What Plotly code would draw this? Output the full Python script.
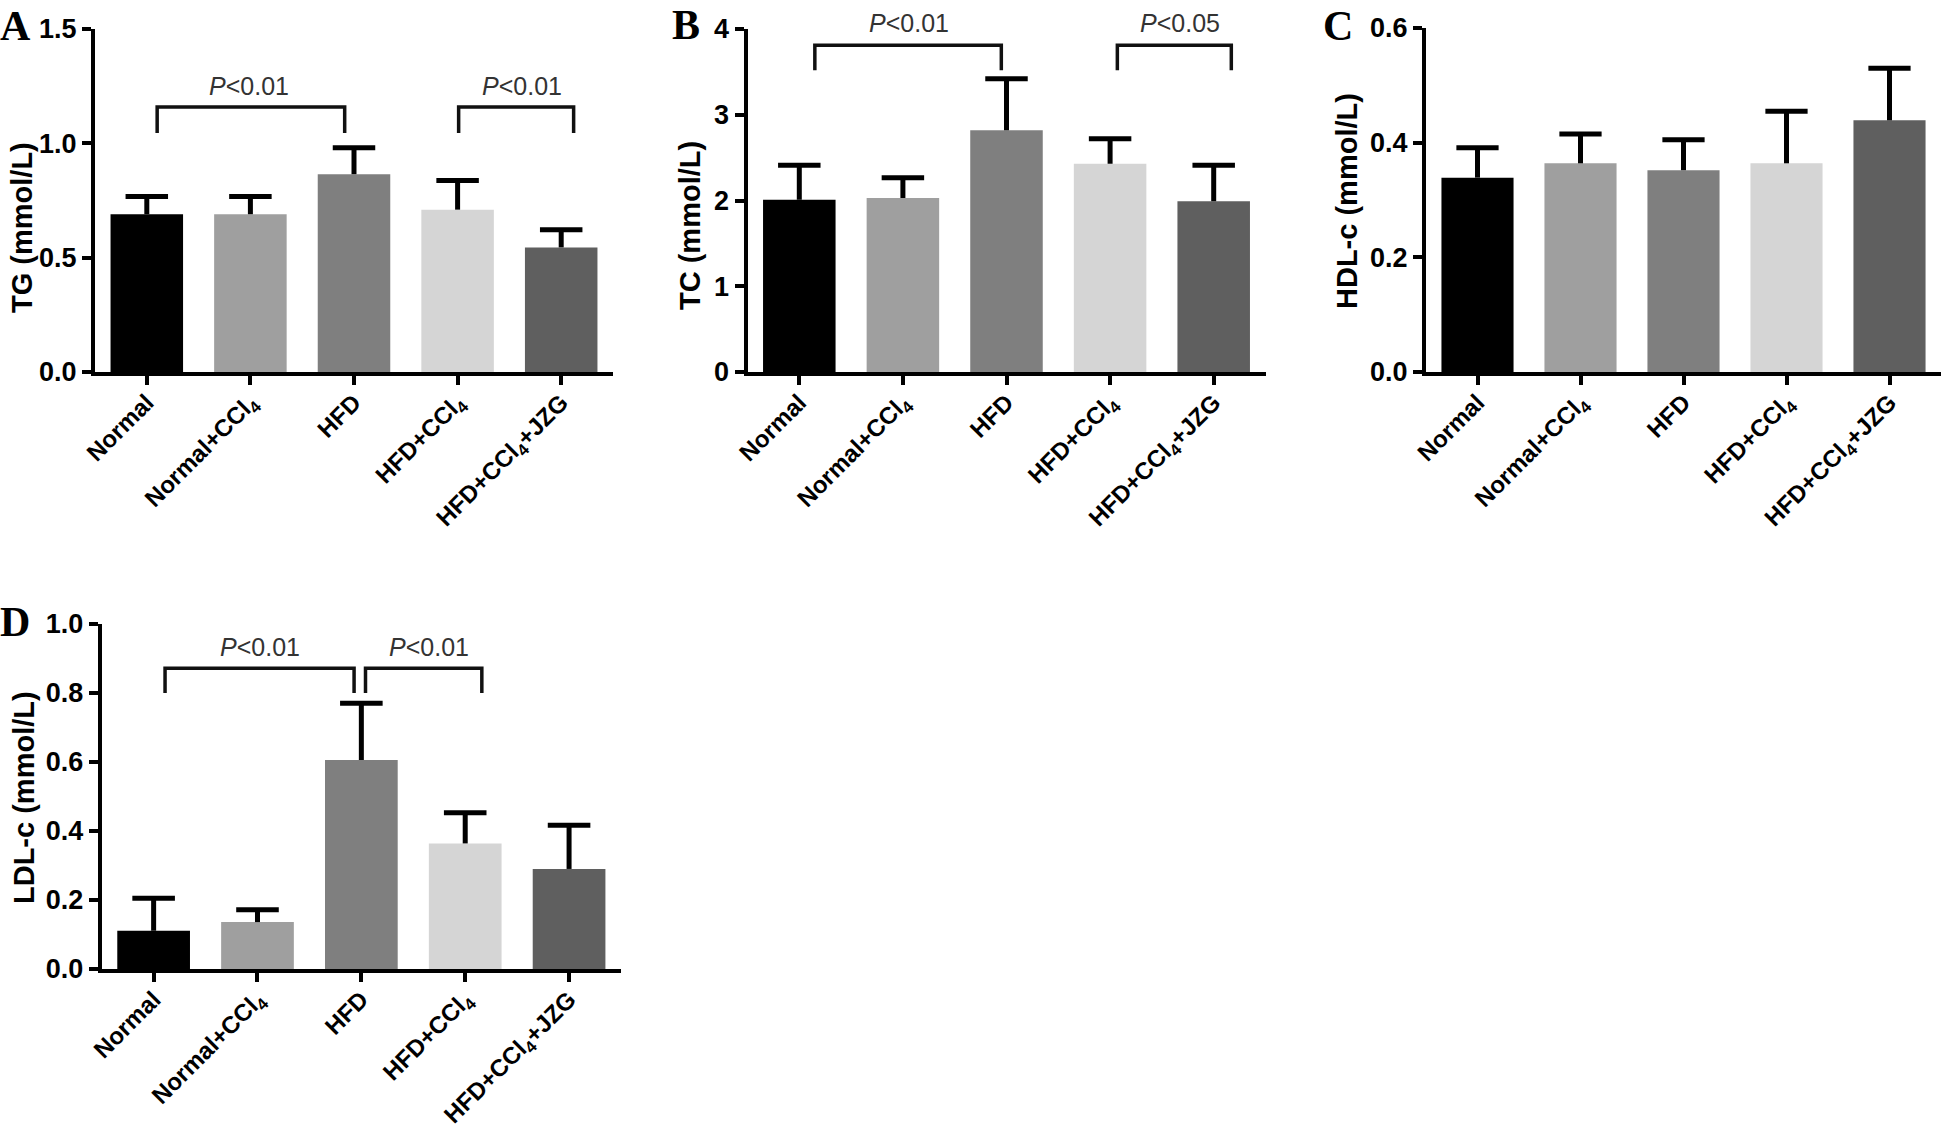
import plotly.graph_objects as go

# ---------------- data ----------------
groups = ["Normal", "Normal+CCl<sub>4</sub>", "HFD", "HFD+CCl<sub>4</sub>", "HFD+CCl<sub>4</sub>+JZG"]
bar_colors = ["#000000", "#9f9f9f", "#7f7f7f", "#d5d5d5", "#5f5f5f"]

tg_mean = [0.69, 0.69, 0.865, 0.71, 0.545]
tg_sd = [0.078, 0.078, 0.116, 0.128, 0.077]

tc_mean = [2.01, 2.03, 2.82, 2.43, 1.99]
tc_sd = [0.40, 0.235, 0.60, 0.29, 0.42]

hdl_mean = [0.339, 0.364, 0.352, 0.364, 0.439]
hdl_sd = [0.052, 0.051, 0.053, 0.091, 0.091]

ldl_mean = [0.111, 0.136, 0.606, 0.364, 0.290]
ldl_sd = [0.094, 0.036, 0.164, 0.089, 0.127]

tg_ticks = [0.0, 0.5, 1.0, 1.5]
tc_ticks = [0, 1, 2, 3, 4]
hdl_ticks = [0.0, 0.2, 0.4, 0.6]
ldl_ticks = [0.0, 0.2, 0.4, 0.6, 0.8, 1.0]

# significance labels: (left group, right group, label)
tg_sig = [(0, 2, "P<0.01"), (3, 4, "P<0.01")]
tc_sig = [(0, 2, "P<0.01"), (3, 4, "P<0.05")]
ldl_sig = [(0, 2, "P<0.01"), (2, 3, "P<0.01")]

# ---------------- layout helpers ----------------
W, H = 1946, 1134


def px_x(p):
    return p / W


def px_y(p):
    return 1 - p / H


panels = [
    dict(letter="A", title="TG (mmol/L)", mean=tg_mean, sd=tg_sd, ticks=tg_ticks, fmt=".1f",
         xdom=(95, 613), ydom=(372, 29), sig=tg_sig,
         br=[(0.10, 1.91, 1.159, 1.045, 0.99, 1.180), (3.01, 4.12, 1.159, 1.045, 3.62, 1.180)],
         letter_pos=(15, 1), title_pos=(22, 228)),
    dict(letter="B", title="TC (mmol/L)", mean=tc_mean, sd=tc_sd, ticks=tc_ticks, fmt="d",
         xdom=(747.5, 1265.5), ydom=(372, 29), sig=tc_sig,
         br=[(0.15, 1.95, 3.81, 3.52, 1.06, 3.88), (3.07, 4.17, 3.81, 3.52, 3.67, 3.88)],
         letter_pos=(686, 0), title_pos=(690, 226)),
    dict(letter="C", title="HDL-c (mmol/L)", mean=hdl_mean, sd=hdl_sd, ticks=hdl_ticks, fmt=".1f",
         xdom=(1426, 1941), ydom=(372, 28), sig=[], br=[],
         letter_pos=(1338, 1), title_pos=(1347, 201)),
    dict(letter="D", title="LDL-c (mmol/L)", mean=ldl_mean, sd=ldl_sd, ticks=ldl_ticks, fmt=".1f",
         xdom=(101.7, 621), ydom=(969, 624), sig=ldl_sig,
         br=[(0.11, 1.93, 0.872, 0.80, 1.02, 0.886), (2.04, 3.16, 0.872, 0.80, 2.65, 0.886)],
         letter_pos=(15, 597), title_pos=(24, 798)),
]

fig = go.Figure()
annotations = []
shapes = []
layout = {}

xs = list(range(len(groups)))
cap = 0.205
tick_font = dict(family="Liberation Sans, Arial", size=27, color="black", weight="bold")
xtick_font = dict(family="Liberation Sans, Arial", size=24, color="black", weight="bold")

for k, p in enumerate(panels):
    n = "" if k == 0 else str(k + 1)
    xa, ya = "x" + n, "y" + n
    fig.add_trace(go.Bar(x=xs, y=p["mean"], width=0.7, marker=dict(color=bar_colors, line=dict(width=0)),
                         xaxis=xa, yaxis=ya, showlegend=False, hoverinfo="skip"))
    ex, ey = [], []
    for i, (m, s) in enumerate(zip(p["mean"], p["sd"])):
        ex += [i, i, None, i - cap, i + cap, None]
        ey += [m, m + s, None, m + s, m + s, None]
    fig.add_trace(go.Scatter(x=ex, y=ey, mode="lines", line=dict(color="black", width=5),
                             xaxis=xa, yaxis=ya, showlegend=False, hoverinfo="skip"))

    ymax = p["ticks"][-1]
    layout["xaxis" + n] = dict(
        domain=[px_x(p["xdom"][0]), px_x(p["xdom"][1])], anchor=ya, range=[-0.5, 4.5],
        tickmode="array", tickvals=xs, ticktext=groups, tickangle=-45, tickfont=xtick_font,
        ticklabelstandoff=-6,
        showline=True, linecolor="black", linewidth=4, ticks="outside", ticklen=9, tickwidth=4,
        tickcolor="black", showgrid=False, zeroline=False, fixedrange=True, automargin=False)
    layout["yaxis" + n] = dict(
        domain=[px_y(p["ydom"][0]), px_y(p["ydom"][1])], anchor=xa, range=[0, ymax],
        tickmode="array", tickvals=p["ticks"], tickformat=p["fmt"], tickfont=tick_font,
        showline=True, linecolor="black", linewidth=4, ticks="outside", ticklen=9, tickwidth=4,
        tickcolor="black", showgrid=False, zeroline=False, fixedrange=True, automargin=False)

    # brackets
    for (lab_pair, b) in zip(p["sig"], p["br"]):
        x0, x1, yl, yb, xt, yt = b
        shapes.append(dict(type="path", xref=xa, yref=ya,
                           path=f"M {x0} {yb} L {x0} {yl} L {x1} {yl} L {x1} {yb}",
                           line=dict(color="#111", width=3.5)))
        annotations.append(dict(xref=xa, yref=ya, x=xt, y=yt, xanchor="center", yanchor="bottom",
                                text="<i>P</i>&lt;" + lab_pair[2][2:], showarrow=False,
                                font=dict(family="Liberation Sans, Arial", size=25, color="#333")))

    # panel letter
    annotations.append(dict(xref="paper", yref="paper", x=px_x(p["letter_pos"][0]), y=px_y(p["letter_pos"][1]),
                            xanchor="center", yanchor="top", text="<b>" + p["letter"] + "</b>",
                            showarrow=False, font=dict(family="Liberation Serif, Times New Roman", size=42, color="black")))
    # y title
    annotations.append(dict(xref="paper", yref="paper", x=px_x(p["title_pos"][0]), y=px_y(p["title_pos"][1]),
                            xanchor="center", yanchor="middle", text="<b>" + p["title"] + "</b>", textangle=-90,
                            showarrow=False, font=dict(family="Liberation Sans, Arial", size=29, color="black")))

fig.update_layout(template="none", width=W, height=H, margin=dict(l=0, r=0, t=0, b=0, pad=0),
                  paper_bgcolor="white", plot_bgcolor="white", showlegend=False,
                  annotations=annotations, shapes=shapes, **layout)

fig.write_html("out.html", config={"displayModeBar": False, "staticPlot": True},
               post_script="document.body.style.margin='0px';")
